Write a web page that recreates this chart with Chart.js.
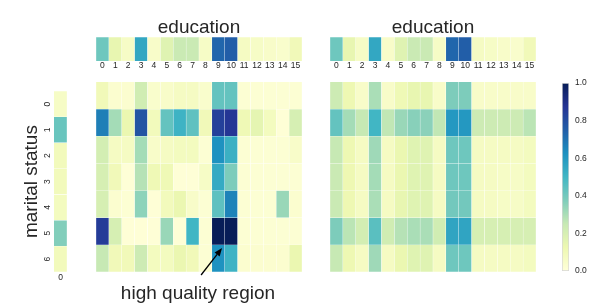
<!DOCTYPE html>
<html>
<head>
<meta charset="utf-8">
<script src="https://cdn.jsdelivr.net/npm/chart.js@4.4.1/dist/chart.umd.min.js"></script>
<style>
  html, body { margin: 0; padding: 0; background: #fff; }
  body { width: 598px; height: 304px; position: relative; overflow: hidden; }
  canvas { position: absolute; }
</style>
</head>
<body>
<canvas id="rowMarginal" width="67" height="205" style="left:0;top:82px"></canvas>
<canvas id="colMarginalLeft" width="206" height="59" style="left:96px;top:16px"></canvas>
<canvas id="heatLeft" width="206" height="222" style="left:96px;top:82px"></canvas>
<canvas id="colMarginalRight" width="206" height="59" style="left:330px;top:16px"></canvas>
<canvas id="heatRight" width="206" height="190" style="left:330px;top:82px"></canvas>
<canvas id="colorbar" width="43" height="210" style="left:555px;top:72px"></canvas>
<script>
// Etiquetas de ejes
const educationLabels = ['0', '1', '2', '3', '4', '5', '6', '7', '8', '9', '10', '11', '12', '13', '14', '15'];
const maritalLabels = ['0', '1', '2', '3', '4', '5', '6'];
const rowMarginalLabels = ['0'];
const colorbarTicks = [0.0, 0.2, 0.4, 0.6, 0.8, 1.0];

// Marginales
const educationMarginal = [0.41, 0.14, 0.06, 0.55, 0.05, 0.17, 0.24, 0.24, 0.06, 0.73, 0.75, 0.07, 0.06, 0.05, 0.04, 0.10];
const maritalMarginal = [0.06, 0.42, 0.09, 0.09, 0.08, 0.37, 0.09];

// Heatmap izquierda (filas = marital status, columnas = education)
const observedRow0 = [0.10, 0.03, 0.03, 0.22, 0.04, 0.05, 0.07, 0.07, 0.04, 0.43, 0.43, 0.02, 0.02, 0.02, 0.02, 0.02];
const observedRow1 = [0.67, 0.31, 0.13, 0.78, 0.09, 0.43, 0.51, 0.44, 0.10, 0.84, 0.87, 0.11, 0.15, 0.08, 0.01, 0.20];
const observedRow2 = [0.21, 0.07, 0.07, 0.31, 0.05, 0.07, 0.08, 0.08, 0.02, 0.62, 0.52, 0.02, 0.02, 0.02, 0.02, 0.05];
const observedRow3 = [0.20, 0.10, 0.01, 0.28, 0.11, 0.11, 0.01, 0.01, 0.06, 0.54, 0.38, 0.02, 0.02, 0.02, 0.02, 0.02];
const observedRow4 = [0.20, 0.03, 0.02, 0.35, 0.01, 0.09, 0.13, 0.05, 0.02, 0.44, 0.66, 0.02, 0.02, 0.02, 0.33, 0.03];
const observedRow5 = [0.85, 0.20, 0.01, 0.01, 0.01, 0.33, 0.01, 0.50, 0.02, 1.00, 1.00, 0.02, 0.02, 0.02, 0.02, 0.02];
const observedRow6 = [0.25, 0.10, 0.10, 0.23, 0.08, 0.08, 0.13, 0.10, 0.02, 0.62, 0.51, 0.03, 0.03, 0.03, 0.03, 0.13];

// Heatmap derecha
const expectedRow0 = [0.23, 0.12, 0.05, 0.30, 0.05, 0.11, 0.14, 0.14, 0.05, 0.38, 0.38, 0.05, 0.05, 0.05, 0.05, 0.05];
const expectedRow1 = [0.43, 0.31, 0.25, 0.50, 0.26, 0.33, 0.36, 0.355, 0.26, 0.60, 0.60, 0.23, 0.23, 0.23, 0.23, 0.27];
const expectedRow2 = [0.25, 0.12, 0.07, 0.32, 0.07, 0.13, 0.17, 0.17, 0.07, 0.41, 0.41, 0.07, 0.07, 0.07, 0.07, 0.08];
const expectedRow3 = [0.24, 0.12, 0.07, 0.31, 0.07, 0.13, 0.17, 0.17, 0.07, 0.41, 0.41, 0.07, 0.07, 0.06, 0.06, 0.08];
const expectedRow4 = [0.24, 0.12, 0.07, 0.30, 0.07, 0.14, 0.17, 0.17, 0.07, 0.40, 0.40, 0.07, 0.07, 0.06, 0.06, 0.08];
const expectedRow5 = [0.38, 0.27, 0.21, 0.45, 0.22, 0.28, 0.30, 0.30, 0.22, 0.56, 0.56, 0.20, 0.20, 0.20, 0.20, 0.20];
const expectedRow6 = [0.25, 0.12, 0.07, 0.32, 0.07, 0.13, 0.17, 0.17, 0.07, 0.41, 0.41, 0.07, 0.07, 0.07, 0.07, 0.08];

const observed = [observedRow0, observedRow1, observedRow2, observedRow3, observedRow4, observedRow5, observedRow6];
const expected = [expectedRow0, expectedRow1, expectedRow2, expectedRow3, expectedRow4, expectedRow5, expectedRow6];

// Anotación (en coordenadas de datos de la heatmap izquierda)
const note = { text: 'high quality region', tip: [9.29, 6.12], tail: [7.66, 7.11], at: [7.42, 7.98] };

// Mapa de color YlGnBu
const ylgnbu = ['#ffffd9', '#edf8b1', '#c7e9b4', '#7fcdbb', '#41b6c4', '#1d91c0', '#225ea8', '#253494', '#081d58'];
const textColor = '#262626';
const font = "'Liberation Sans', Arial, sans-serif";

function hexToRgb(h) {
  return [parseInt(h.slice(1, 3), 16), parseInt(h.slice(3, 5), 16), parseInt(h.slice(5, 7), 16)];
}
function colorFor(v) {
  const t = Math.max(0, Math.min(1, v)) * (ylgnbu.length - 1);
  const i = Math.min(Math.floor(t), ylgnbu.length - 2);
  const f = t - i;
  const a = hexToRgb(ylgnbu[i]), b = hexToRgb(ylgnbu[i + 1]);
  const c = a.map((x, k) => Math.round(x + (b[k] - x) * f));
  return `rgb(${c[0]},${c[1]},${c[2]})`;
}

const cellBorder = 'rgba(255,255,255,0.25)';
const base = {
  responsive: false,
  animation: false,
  events: [],
  layout: { autoPadding: false },
  plugins: { legend: { display: false }, tooltip: { enabled: false } }
};

// Heatmap: barras apiladas, una serie por fila
function heatmap(id, matrix, extraPlugins, padBottom) {
  return new Chart(document.getElementById(id), {
    type: 'bar',
    data: {
      labels: educationLabels,
      datasets: matrix.map((row, i) => ({
        label: maritalLabels[i],
        data: row.map(() => 1),
        backgroundColor: row.map(colorFor),
        borderColor: cellBorder,
        borderWidth: 0.5,
        barPercentage: 1,
        categoryPercentage: 1
      }))
    },
    options: {
      ...base,
      layout: { autoPadding: false, padding: { bottom: padBottom || 0 } },
      scales: {
        x: { stacked: true, display: false },
        y: { stacked: true, display: false, reverse: true, min: 0, max: maritalLabels.length }
      }
    },
    plugins: extraPlugins || []
  });
}

// Barra marginal superior (education)
function topMarginal(id) {
  return new Chart(document.getElementById(id), {
    type: 'bar',
    data: {
      labels: educationLabels,
      datasets: [{
        data: educationMarginal.map(() => 1),
        backgroundColor: educationMarginal.map(colorFor),
        borderColor: cellBorder,
        borderWidth: 0.5,
        barPercentage: 1,
        categoryPercentage: 1
      }]
    },
    options: {
      ...base,
      plugins: {
        ...base.plugins,
        title: { display: true, text: 'education', color: textColor, padding: { top: 2, bottom: 0 },
                 font: { family: font, size: 19, weight: 'normal', lineHeight: 1.0 } }
      },
      scales: {
        x: {
          grid: { display: false, drawTicks: false }, border: { display: false },
          ticks: { color: textColor, padding: 0, maxRotation: 0, autoSkip: false, font: { family: font, size: 8.5 } },
          afterFit: s => { s.height = 14; }
        },
        y: { display: false, min: 0, max: 1 }
      }
    }
  });
}

// Columna marginal (marital status)
new Chart(document.getElementById('rowMarginal'), {
  type: 'bar',
  data: {
    labels: maritalLabels,
    datasets: [{
      data: maritalMarginal.map(() => 1),
      backgroundColor: maritalMarginal.map(colorFor),
      borderColor: cellBorder,
      borderWidth: 0.5,
      barPercentage: 1,
      categoryPercentage: 1
    }]
  },
  options: {
    ...base,
    indexAxis: 'y',
    scales: {
      x: {
        min: 0, max: 1,
        grid: { display: false, drawTicks: false }, border: { display: false },
        afterBuildTicks: s => { s.ticks = rowMarginalLabels.map((_, i) => ({ value: i + 0.5 })); },
        ticks: { color: textColor, padding: 1, font: { family: font, size: 8.5 },
                 callback: (v, i) => rowMarginalLabels[i] },
        afterFit: s => { s.height = 15; }
      },
      y: {
        grid: { display: false, drawTicks: false }, border: { display: false },
        ticks: { color: textColor, padding: 4, minRotation: 90, maxRotation: 90, crossAlign: 'center',
                 font: { family: font, size: 8.5 } },
        title: { display: true, text: 'marital status', color: textColor, padding: { top: 20, bottom: 0 },
                 font: { family: font, size: 19, lineHeight: 1.2 } },
        afterFit: s => { s.width = 54; }
      }
    }
  }
});

// Flecha y texto de la región de alta calidad
const highQualityNote = {
  id: 'highQualityNote',
  afterDraw(chart) {
    const { ctx, scales: { x, y } } = chart;
    const tx = x.getPixelForValue(note.tip[0]), ty = y.getPixelForValue(note.tip[1]);
    const sx = x.getPixelForValue(note.tail[0]), sy = y.getPixelForValue(note.tail[1]);
    const ang = Math.atan2(ty - sy, tx - sx);
    const head = 8, half = 3.2;
    ctx.save();
    ctx.strokeStyle = '#000';
    ctx.fillStyle = '#000';
    ctx.lineWidth = 1.3;
    ctx.beginPath();
    ctx.moveTo(sx, sy);
    ctx.lineTo(tx - Math.cos(ang) * head, ty - Math.sin(ang) * head);
    ctx.stroke();
    ctx.beginPath();
    ctx.moveTo(tx, ty);
    ctx.lineTo(tx - Math.cos(ang) * head - Math.sin(ang) * half, ty - Math.sin(ang) * head + Math.cos(ang) * half);
    ctx.lineTo(tx - Math.cos(ang) * head + Math.sin(ang) * half, ty - Math.sin(ang) * head - Math.cos(ang) * half);
    ctx.closePath();
    ctx.fill();
    ctx.fillStyle = textColor;
    ctx.font = `19px ${font}`;
    ctx.textAlign = 'center';
    ctx.textBaseline = 'alphabetic';
    ctx.fillText(note.text, x.getPixelForValue(note.at[0]), y.getPixelForValue(note.at[1]));
    ctx.restore();
  }
};

topMarginal('colMarginalLeft');
topMarginal('colMarginalRight');
heatmap('heatLeft', observed, [highQualityNote], 32);
heatmap('heatRight', expected);

// Barra de color
new Chart(document.getElementById('colorbar'), {
  type: 'bar',
  data: {
    labels: [''],
    datasets: [{
      data: [[0, 1]],
      backgroundColor: ctx => {
        const area = ctx.chart.chartArea;
        if (!area) return ylgnbu[0];
        const g = ctx.chart.ctx.createLinearGradient(0, area.bottom, 0, area.top);
        ylgnbu.forEach((c, i) => g.addColorStop(i / (ylgnbu.length - 1), c));
        return g;
      },
      borderColor: '#d6d6d6',
      borderWidth: 1,
      borderSkipped: false,
      barPercentage: 1,
      categoryPercentage: 1
    }]
  },
  options: {
    ...base,
    layout: { autoPadding: false, padding: { left: 7, top: 10, bottom: 11 } },
    scales: {
      x: { display: false },
      y: {
        position: 'right', min: 0, max: 1,
        grid: { display: false, drawTicks: false }, border: { display: false },
        afterBuildTicks: s => { s.ticks = colorbarTicks.map(v => ({ value: v })); },
        ticks: { color: textColor, padding: 6, font: { family: font, size: 8.5 }, callback: v => v.toFixed(1) },
        afterFit: s => { s.width = 29; }
      }
    }
  }
});
</script>
</body>
</html>
